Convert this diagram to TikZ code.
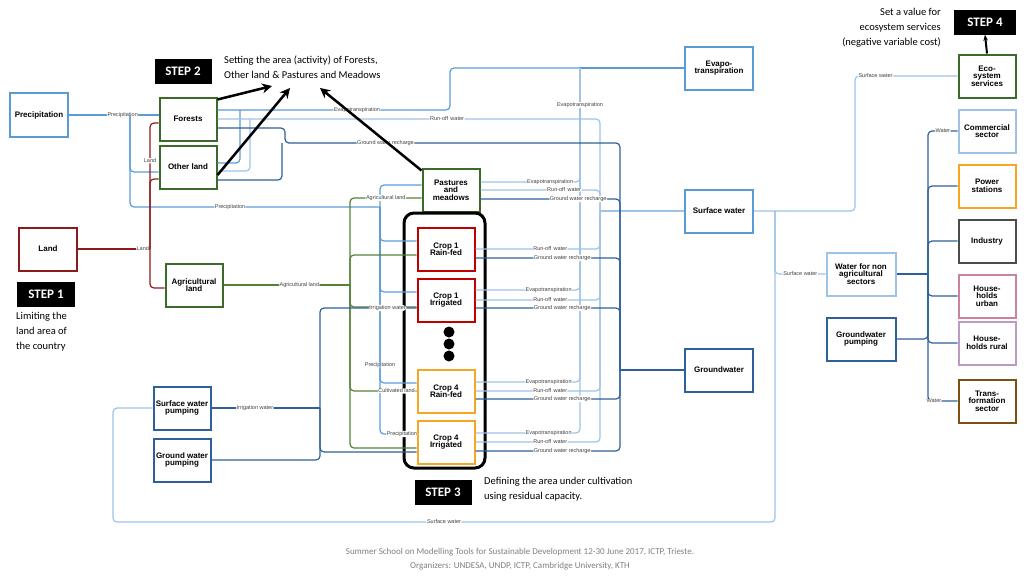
\documentclass[tikz,border=0pt]{standalone}
\usepackage{fontspec}
\setmainfont{Liberation Sans}
\newfontfamily\stepfont{Carlito}
\usetikzlibrary{arrows.meta,positioning}
\definecolor{lblue}{HTML}{9DC3E6}
\definecolor{mblue}{HTML}{5B9BD5}
\definecolor{dblue}{HTML}{2E6099}
\definecolor{lgreen}{HTML}{548235}
\definecolor{dgreen}{HTML}{3B6B2A}
\definecolor{dred}{HTML}{8B1A1A}
\definecolor{cred}{HTML}{C00000}
\definecolor{corange}{HTML}{F5A623}
\definecolor{cpink}{HTML}{C9829F}
\definecolor{cviolet}{HTML}{B99BC4}
\definecolor{cbrown}{HTML}{7F4F10}
\tikzset{
  box/.style={draw, line width=2pt, fill=white, align=center, minimum width=57pt,
    minimum height=43pt, font=\bfseries\fontsize{8}{7.5}\selectfont, inner sep=1pt},
  conn/.style={rounded corners=4pt, line width=1.2pt},
  lab/.style={fill=white, inner sep=0.6pt, font=\fontsize{5.5}{5.5}\selectfont, text=black!75},
  steplabel/.style={fill=black, text=white, font=\stepfont\bfseries\fontsize{13}{13}\selectfont,
    minimum width=57pt, minimum height=25pt},
  note/.style={font=\stepfont\fontsize{10.5}{15}\selectfont, inner sep=0pt},
  bigarrow/.style={-{Stealth[length=10pt,width=10pt]}, line width=2.5pt},
}
\begin{document}
\begin{tikzpicture}[x=1pt,y=-1pt]
    \useasboundingbox (0,0) rectangle (1024,576);

    % nodes, left part
    \node (prec) [box, draw=mblue, minimum width=58pt, minimum height=44pt] at (39,115) {Precipitation};
    \node (forests) [box, draw=dgreen] at (188,119) {Forests};
    \node (oth) [box, draw=dgreen] at (188,167) {Other land};
    \node (land) [box, draw=dred, minimum width=58pt] at (48,249) {Land};
    \node (agr) [box, draw=dgreen] at (194,285) {Agricultural\\land};
    \node (past) [box, draw=dgreen] at (451,190) {Pastures\\and\\meadows};
    \node (crops) [draw, line width=3pt, rounded corners=10pt, minimum width=81pt,
        minimum height=255pt] at (444.5,340.5) {};
    \node (c1r) [box, draw=cred] at (446,249) {Crop 1\\Rain-fed};
    \node (c1i) [box, draw=cred] at (446,300) {Crop 1\\Irrigated};
    \node (c4r) [box, draw=corange] at (446,391) {Crop 4\\Rain-fed};
    \node (c4i) [box, draw=corange] at (446,442) {Crop 4\\Irrigated};
    \foreach \y in {332,344,356} \fill (449,\y) circle (5.5pt);
    \node (swp) [box, draw=dblue] at (182,408) {Surface water\\pumping};
    \node (gwp) [box, draw=dblue] at (182,460) {Ground water\\pumping};

    % nodes, middle and right
    \node (evap) [box, draw=mblue, minimum width=68pt] at (719,68) {Evapo-\\transpiration};
    \node (sw) [box, draw=mblue, minimum width=68pt] at (719,211) {Surface water};
    \node (gw) [box, draw=dblue, minimum width=68pt] at (719,370) {Groundwater};
    \node (wna) [box, draw=lblue, minimum width=69pt] at (861,274) {Water for non\\agricultural\\sectors};
    \node (gwpr) [box, draw=dblue, minimum width=69pt] at (861,339) {Groundwater\\pumping};
    \node (eco) [box, draw=dgreen] at (987,76) {Eco-\\system\\services};
    \node (com) [box, draw=lblue] at (987,131) {Commercial\\sector};
    \node (pow) [box, draw=corange] at (987,186) {Power\\stations};
    \node (ind) [box, draw=black!70] at (987,241) {Industry};
    \node (hhu) [box, draw=cpink] at (987,296) {House-\\holds\\urban};
    \node (hhr) [box, draw=cviolet] at (987,343) {House-\\holds rural};
    \node (trf) [box, draw=cbrown] at (987,401) {Trans-\\formation\\sector};

    % bus points
    \coordinate (pj) at (130,115);
    \coordinate (pb) at (380,207);
    \coordinate (lb) at (150,249);
    \coordinate (ab) at (350,285);
    \coordinate (ib) at (320,408);
    \coordinate (evb) at (580,68);
    \coordinate (rob) at (600,211);
    \coordinate (grb) at (620,370);
    \coordinate (sd) at (775,211);
    \coordinate (wb) at (928,274);

    % precipitation
    \draw[conn, mblue] (prec.east) -- node[lab, pos=0.6] {Precipitation} (prec.east -| forests.west);
    \draw[conn, mblue] (pj) |- ([yshift=-5pt]oth.west);
    \draw[conn, mblue] (pj) |- node[lab, pos=0.7] {Precipitation} (pb);
    \draw[conn, mblue] (pb) |- ([yshift=5pt]past.west);
    \draw[conn, mblue] (pb) |- ([yshift=8pt]c1r.west);
    \draw[conn, mblue] (pb) |- ([yshift=8pt]c1i.west);
    \draw[conn, mblue] (pb) |- node[lab, pos=0.45] {Precipitation} ([yshift=8pt]c4r.west);
    \draw[conn, mblue] (pb) |- node[lab, pos=0.8] {Precipitation} ([yshift=8pt]c4i.west);

    % land
    \draw[conn, dred] (land.east) -- node[lab, pos=0.9] {Land} (lb);
    \draw[conn, dred] (lb) |- node[lab, pos=0.35] {Land} ([yshift=-4pt]forests.west);
    \draw[conn, dred] (lb) |- ([yshift=-12pt]oth.west);
    \draw[conn, dred] (lb) |- ([yshift=-3pt]agr.west);

    % agricultural land
    \draw[conn, lgreen] (agr.east) -- node[lab, pos=0.6] {Agricultural land} (ab);
    \draw[conn, lgreen] (ab) |- node[lab, pos=0.75] {Agricultural land} ([yshift=-8pt]past.west);
    \draw[conn, lgreen] (ab) |- ([yshift=-6pt]c1r.west);
    \draw[conn, lgreen] (ab) |- ([yshift=-7pt]c1i.west);
    \draw[conn, lgreen] (ab) |- node[lab, pos=0.85] {Cultivated land} (c4r.west);
    \draw[conn, lgreen] (ab) |- ([yshift=-6pt]c4i.west);

    % irrigation
    \draw[conn, dblue] (swp.east) -- node[lab, pos=0.4] {Irrigation water} (ib);
    \draw[conn, dblue] (gwp.east) -| (ib);
    \draw[conn, dblue] (ib) |- node[lab, pos=0.85] {Irrigation water} ([yshift=-8pt]c1i.west);
    \draw[conn, dblue] (ib) |- ([yshift=-10pt]c4i.west);

    % evapotranspiration
    \draw[conn, mblue] ([yshift=9pt]forests.east) -| node[lab, pos=0.3] {Evapotranspiration} (450,68) -- (evb);
    \draw[conn, mblue] ([yshift=4pt]oth.east) -| (240,110);
    \draw[conn, mblue] (evb) -- (evap.west);
    \draw[conn, lblue] ([yshift=8pt]past.east) -| node[lab, pos=0.35] {Evapotranspiration} (evb);
    \draw[conn, lblue] ([yshift=10pt]c1i.east) -| node[lab, pos=0.35] {Evapotranspiration} (evb);
    \draw[conn, lblue] ([yshift=9pt]c4r.east) -| node[lab, pos=0.35] {Evapotranspiration} (evb);
    \draw[conn, lblue] ([yshift=9pt]c4i.east) -| node[lab, pos=0.35] {Evapotranspiration} (evb);
    \path (evb) -- node[lab, pos=0.33] {Evapotranspiration} (580,180);

    % run-off water
    \draw[conn, lblue] (forests.east) -| node[lab, pos=0.3] {Run-off\,\ water} (rob);
    \draw[conn, lblue] ([yshift=-4pt]oth.east) -| (250,119);
    \draw[conn, lblue] (past.east) -| node[lab, pos=0.35] {Run-off\,\ water} (rob);
    \draw[conn, lblue] (c1r.east) -| node[lab, pos=0.3] {Run-off\,\ water} (rob);
    \draw[conn, lblue] (c1i.east) -| node[lab, pos=0.3] {Run-off\,\ water} (rob);
    \draw[conn, lblue] (c4r.east) -| node[lab, pos=0.3] {Run-off\,\ water} (rob);
    \draw[conn, lblue] (c4i.east) -| node[lab, pos=0.3] {Run-off\,\ water} (rob);
    \draw[conn, lblue] (rob) -- (sw.west);

    % ground water recharge
    \draw[conn, dblue] ([yshift=-9pt]forests.east) -| (285,143) -| node[lab, pos=0.15] {Ground water recharge} (grb);
    \draw[conn, dblue] ([yshift=-13pt]oth.east) -| (282,143);
    \draw[conn, dblue] ([yshift=-9pt]past.east) -| node[lab, pos=0.35] {Ground water recharge} (grb);
    \draw[conn, dblue] ([yshift=-9pt]c1r.east) -| node[lab, pos=0.3] {Ground water recharge} (grb);
    \draw[conn, dblue] ([yshift=-8pt]c1i.east) -| node[lab, pos=0.3] {Ground water recharge} (grb);
    \draw[conn, dblue] ([yshift=-8pt]c4r.east) -| node[lab, pos=0.3] {Ground water recharge} (grb);
    \draw[conn, dblue] ([yshift=-9pt]c4i.east) -| node[lab, pos=0.3] {Ground water recharge} (grb);
    \draw[conn, dblue] (grb) -- (gw.west);

    % surface water
    \draw[conn, lblue] (sw.east) -- (855,211) |- node[lab, pos=0.6] {Surface water} (eco.west);
    \draw[conn, lblue] (sd) |- node[lab, pos=0.75] {Surface water} (wna.west);
    \draw[conn, lblue] (sd) -- (775,522) -- node[lab] {Surface water} (113,522) |- (swp.west);

    % water for sectors
    \draw[conn, dblue] (wna.east) -- (wb);
    \draw[conn, dblue] (gwpr.east) -| (wb);
    \foreach \s in {pow, ind, hhu, hhr}
        \draw[conn, dblue] (wb) |- (\s.west);
    \draw[conn, dblue] (wb) |- node[lab, pos=0.75] {Water} (com.west);
    \draw[conn, dblue] (wb) |- node[lab, pos=0.6] {Water} (trf.west);

    % steps
    \node (step2) [steplabel] at (183,71) {STEP 2};
    \node (note2) [note, anchor=north west, align=left] at (224,56) {Setting the area (activity) of Forests,\\Other land \& Pastures and Meadows};
    \coordinate (t2a) at (272,86);
    \coordinate (t2b) at (290,88);
    \coordinate (t2c) at (320,88);
    \draw[bigarrow] ([yshift=-3pt]forests.north east) -- (t2a);
    \draw[bigarrow] ([yshift=-8pt]oth.east) -- (t2b);
    \draw[bigarrow] ([yshift=-3pt]past.north west) -- (t2c);

    \node (step1) [steplabel, minimum width=58pt] at (46,294) {STEP 1};
    \node (note1) [note, anchor=north west, align=left] at (16,312) {Limiting the\\land area of\\the country};

    \node (step3) [steplabel] at (443,492) {STEP 3};
    \node (note3) [note, anchor=north west, align=left] at (484,477) {Defining the area under cultivation\\using residual capacity.};

    \node (step4) [steplabel, minimum width=62pt] at (985,22) {STEP 4};
    \node (note4) [note, anchor=north east, align=right] at (941,8) {Set a value for\\ecosystem services\\(negative variable cost)};
    \draw[-{Stealth[length=6pt]}, line width=2pt] (eco.north) -- (step4.south);

    \node (foot) [font=\stepfont\fontsize{9}{14}\selectfont, text=black!50, align=center] at (520,559)
        {Summer School on Modelling Tools for Sustainable Development 12-30 June 2017, ICTP, Trieste.\\Organizers: UNDESA, UNDP, ICTP, Cambridge University, KTH};
\end{tikzpicture}
\end{document}
